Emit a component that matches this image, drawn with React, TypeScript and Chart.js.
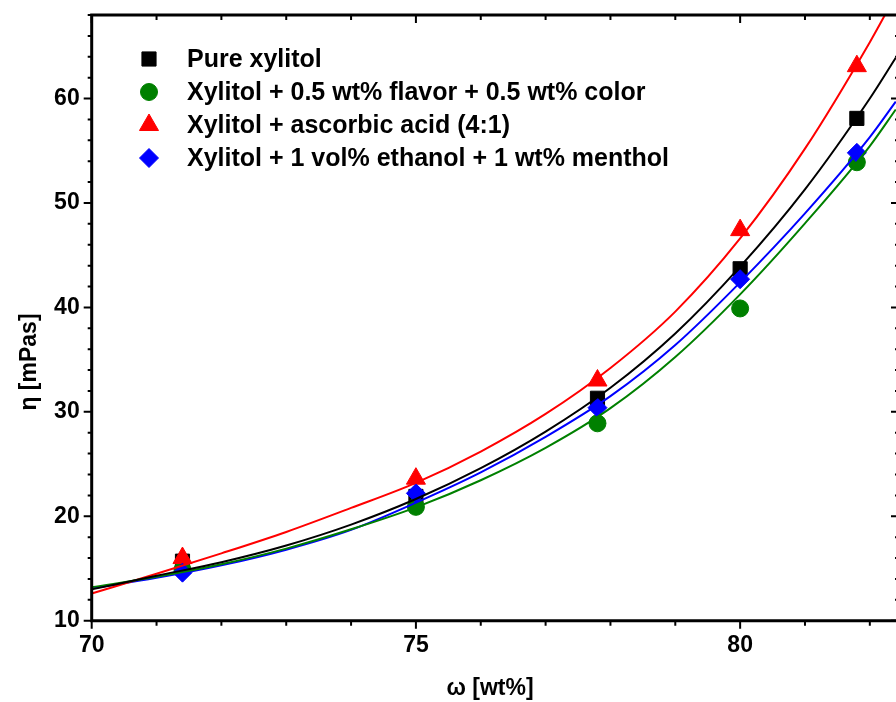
import React, { useEffect, useRef } from "react";
import { Chart, registerables } from "chart.js";
import { drawPoint } from "chart.js/helpers";

Chart.register(...registerables);

// ---- data ----
const concentrations = [71.4, 75, 77.8, 80, 81.8];
const pureXylitol = [15.7, 21.9, 31.3, 43.7, 58.1];
const flavorColor = [14.9, 20.9, 28.9, 39.9, 53.9];
const ascorbicAcid = [16.0, 23.6, 33.0, 47.4, 63.1];
const ethanolMenthol = [14.6, 22.2, 30.4, 42.7, 54.8];

const fitX = [70, 71, 72, 73, 74, 75, 76, 77, 78, 79, 80, 81, 82, 82.4];
const fitPure = [13.0, 14.3, 15.6, 17.2, 19.2, 21.65, 24.6, 28.1, 32.3, 37.5, 43.9, 51.3, 60.0, 63.9];
const fitFlavor = [13.2, 14.2, 15.4, 16.9, 18.75, 20.85, 23.45, 26.55, 30.35, 35.25, 41.25, 48.05, 55.45, 58.95];
const fitAscorbic = [12.6, 14.5, 16.45, 18.5, 20.8, 23.2, 26.2, 29.8, 34.2, 39.6, 46.6, 55.2, 65.4, 69.9];
const fitEthanol = [13.1, 14.1, 15.3, 16.8, 18.7, 21.3, 24.2, 27.6, 31.5, 36.4, 42.4, 49.0, 56.3, 59.7];

const seriesLabels = [
  "Pure xylitol",
  "Xylitol + 0.5 wt% flavor + 0.5 wt% color",
  "Xylitol + ascorbic acid (4:1)",
  "Xylitol + 1 vol% ethanol + 1 wt% menthol",
];
const seriesColors = ["#000000", "#008000", "#ff0000", "#0000ff"];
const seriesStyles = ["rect", "circle", "triangle", "rectRot"];
const seriesRadius = [10, 8.5, 11, 9.5];

const xTickValues = [70, 75, 80];
const yTickValues = [10, 20, 30, 40, 50, 60];
const xTitle = "ω [wt%]";
const yTitle = "η [mPas]";

const X_MIN = 70;
const X_MAX = 82.45;
const Y_MIN = 10;
const Y_MAX = 68;

const FONT = '"Liberation Sans", Arial, sans-serif';

const framePlugin = {
  id: "frame",
  afterDraw(chart: any) {
    const { ctx, chartArea } = chart;
    const xs = chart.scales.x;
    const ys = chart.scales.y;
    const { left, right, top, bottom } = chartArea;
    ctx.save();
    ctx.strokeStyle = "#000";
    ctx.lineCap = "butt";
    // ticks
    ctx.lineWidth = 2;
    for (let v = X_MIN; v <= X_MAX + 1e-9; v += 1) {
      const px = xs.getPixelForValue(v);
      const major = Math.abs(v % 5) < 1e-9;
      const len = major ? 8 : 5;
      ctx.beginPath();
      ctx.moveTo(px, bottom);
      ctx.lineTo(px, bottom + len);
      ctx.moveTo(px, top);
      ctx.lineTo(px, top + len);
      ctx.stroke();
    }
    for (let v = Y_MIN; v <= Y_MAX + 1e-9; v += 2) {
      const py = ys.getPixelForValue(v);
      const major = Math.abs(v % 10) < 1e-9;
      const len = major ? 8 : 4;
      ctx.beginPath();
      ctx.moveTo(left, py);
      ctx.lineTo(left - len, py);
      ctx.moveTo(right, py);
      ctx.lineTo(right - len, py);
      ctx.stroke();
    }
    // frame
    ctx.lineWidth = 3;
    ctx.beginPath();
    ctx.moveTo(left, top);
    ctx.lineTo(right, top);
    ctx.lineTo(right, bottom);
    ctx.lineTo(left, bottom);
    ctx.closePath();
    ctx.stroke();

    // axis titles
    ctx.fillStyle = "#000";
    ctx.font = `bold 23px ${FONT}`;
    ctx.textAlign = "center";
    ctx.textBaseline = "middle";
    ctx.fillText(xTitle, 490, 689);
    ctx.save();
    ctx.translate(30, 362);
    ctx.rotate(-Math.PI / 2);
    ctx.fillText(yTitle, 0, 0);
    ctx.restore();

    // legend
    ctx.font = `bold 25px ${FONT}`;
    ctx.textAlign = "left";
    for (let i = 0; i < seriesLabels.length; i++) {
      const ly = 59 + i * 33;
      ctx.fillStyle = seriesColors[i];
      ctx.strokeStyle = seriesColors[i];
      ctx.lineWidth = 1;
      drawPoint(
        ctx,
        { pointStyle: seriesStyles[i], radius: seriesRadius[i], borderWidth: 1, rotation: 0 },
        149,
        ly
      );
      ctx.fillStyle = "#000";
      ctx.fillText(seriesLabels[i], 187, ly + 1);
    }
    ctx.restore();
  },
};

export default function App() {
  const ref = useRef<HTMLCanvasElement>(null);
  useEffect(() => {
    if (!ref.current) return;
    const pointSets = [pureXylitol, flavorColor, ascorbicAcid, ethanolMenthol];
    const fitSets = [fitPure, fitFlavor, fitAscorbic, fitEthanol];
    const datasets: any[] = [];
    fitSets.forEach((arr, i) => {
      datasets.push({
        label: seriesLabels[i] + " fit",
        data: fitX.map((x, j) => ({ x, y: arr[j] })),
        showLine: true,
        borderColor: seriesColors[i],
        backgroundColor: seriesColors[i],
        borderWidth: 2,
        pointRadius: 0,
        cubicInterpolationMode: "monotone",
        order: 0,
      });
    });
    pointSets.forEach((arr, i) => {
      datasets.push({
        label: seriesLabels[i],
        data: concentrations.map((x, j) => ({ x, y: arr[j] })),
        showLine: false,
        borderColor: seriesColors[i],
        backgroundColor: seriesColors[i],
        pointStyle: seriesStyles[i],
        pointRadius: seriesRadius[i],
        pointBorderWidth: 1,
        order: 4 - i,
      });
    });
    const chart = new Chart(ref.current, {
      type: "scatter",
      data: { datasets },
      options: {
        responsive: false,
        animation: false,
        devicePixelRatio: 1,
        layout: { padding: { left: 0, right: 10, top: 15, bottom: 0 } },
        plugins: { legend: { display: false }, tooltip: { enabled: false } },
        scales: {
          x: {
            type: "linear",
            min: X_MIN,
            max: X_MAX,
            grid: { display: false, drawTicks: false },
            border: { display: false },
            afterBuildTicks: (s: any) => {
              s.ticks = xTickValues.map((v) => ({ value: v }));
            },
            afterFit: (s: any) => {
              s.height = 81.3;
              s.paddingLeft = 0;
              s.paddingRight = 0;
              s.paddingTop = 0;
              s.paddingBottom = 0;
            },
            ticks: {
              padding: 11,
              color: "#000",
              font: { family: FONT, size: 23, weight: "bold" },
              maxRotation: 0,
              autoSkip: false,
            },
          },
          y: {
            type: "linear",
            min: Y_MIN,
            max: Y_MAX,
            grid: { display: false, drawTicks: false },
            border: { display: false },
            afterBuildTicks: (s: any) => {
              s.ticks = yTickValues.map((v) => ({ value: v }));
            },
            afterFit: (s: any) => {
              s.width = 91.7;
              s.paddingLeft = 0;
              s.paddingRight = 0;
              s.paddingTop = 0;
              s.paddingBottom = 0;
            },
            ticks: {
              padding: 12,
              color: "#000",
              font: { family: FONT, size: 23, weight: "bold" },
              autoSkip: false,
            },
          },
        },
      },
      plugins: [framePlugin],
    });
    return () => chart.destroy();
  }, []);
  return (
    <div
      style={{
        position: "fixed",
        left: 0,
        top: 0,
        width: 896,
        height: 702,
        overflow: "hidden",
        background: "#fff",
      }}
    >
      <canvas ref={ref} width={911} height={702} style={{ width: 911, height: 702, display: "block" }} />
    </div>
  );
}
